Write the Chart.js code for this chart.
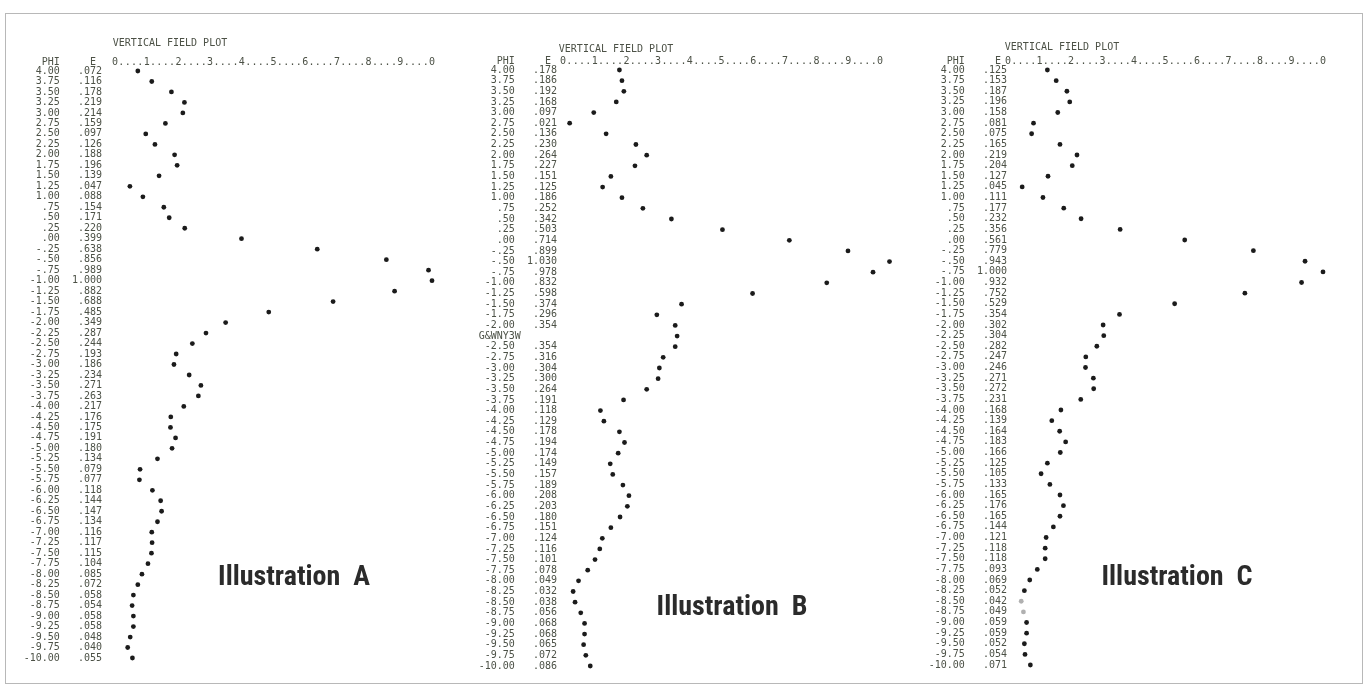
<!DOCTYPE html>
<html>
<head>
<meta charset="utf-8">
<title>Vertical field plot</title>
<script src="https://cdn.jsdelivr.net/npm/chart.js@4.4.0/dist/chart.umd.min.js"></script>
<style>
  html, body { margin: 0; padding: 0; background: #fff; }
  body { width: 1368px; height: 691px; position: relative; overflow: hidden; }
  .frame { position: absolute; left: 5px; top: 13px; width: 1356px; height: 669px; border: 1px solid #b8b8b8; }
  .panel { position: absolute; top: 0; width: 456px; height: 691px; }
</style>
</head>
<body>
<div class="frame"></div>
<div class="panel" style="left:0px"><canvas id="chart-a" width="456" height="691"></canvas></div>
<div class="panel" style="left:456px"><canvas id="chart-b" width="456" height="691"></canvas></div>
<div class="panel" style="left:912px"><canvas id="chart-c" width="456" height="691"></canvas></div>
<script>
// vertical angle PHI (degrees), one row per 0.25
const phi = [4.00, 3.75, 3.50, 3.25, 3.00, 2.75, 2.50, 2.25, 2.00, 1.75, 1.50, 1.25, 1.00, 0.75, 0.50, 0.25, 0.00,
  -0.25, -0.50, -0.75, -1.00, -1.25, -1.50, -1.75, -2.00, -2.25, -2.50, -2.75, -3.00, -3.25, -3.50, -3.75, -4.00,
  -4.25, -4.50, -4.75, -5.00, -5.25, -5.50, -5.75, -6.00, -6.25, -6.50, -6.75, -7.00, -7.25, -7.50, -7.75, -8.00,
  -8.25, -8.50, -8.75, -9.00, -9.25, -9.50, -9.75, -10.00];

// relative field E for each illustration
const fieldA = [.072, .116, .178, .219, .214, .159, .097, .126, .188, .196, .139, .047, .088, .154, .171, .220, .399,
  .638, .856, .989, 1.000, .882, .688, .485, .349, .287, .244, .193, .186, .234, .271, .263, .217,
  .176, .175, .191, .180, .134, .079, .077, .118, .144, .147, .134, .116, .117, .115, .104, .085,
  .072, .058, .054, .058, .058, .048, .040, .055];
const fieldB = [.178, .186, .192, .168, .097, .021, .136, .230, .264, .227, .151, .125, .186, .252, .342, .503, .714,
  .899, 1.030, .978, .832, .598, .374, .296, .354, .360, .354, .316, .304, .300, .264, .191, .118,
  .129, .178, .194, .174, .149, .157, .189, .208, .203, .180, .151, .124, .116, .101, .078, .049,
  .032, .038, .056, .068, .068, .065, .072, .086];
const fieldC = [.125, .153, .187, .196, .158, .081, .075, .165, .219, .204, .127, .045, .111, .177, .232, .356, .561,
  .779, .943, 1.000, .932, .752, .529, .354, .302, .304, .282, .247, .246, .271, .272, .231, .168,
  .139, .164, .183, .166, .125, .105, .133, .165, .176, .165, .144, .121, .118, .118, .093, .069,
  .052, .042, .049, .059, .059, .052, .054, .071];

// printer scale across the top
const scaleHeader = "0....1....2....3....4....5....6....7....8....9....0";
const scaleChars = scaleHeader.split("");
const scaleMax = 1.04; // room for the 1.030 reading

const textColor = "#4c5146";
const dotColor = "#1b1b1b";
const mono = { family: "'DejaVu Sans Mono', 'Liberation Mono', monospace", size: 10 };

function fmtPhi(v) {
  let s = Math.abs(v).toFixed(2);
  if (Math.abs(v) < 1) s = s.slice(1);
  return (v < 0 ? "-" : "") + s;
}

function fmtE(v) {
  const s = v.toFixed(3);
  return v < 1 ? s.slice(1) : s;
}

const panelText = {
  id: "panelText",
  afterDraw(chart, args, opts) {
    const ctx = chart.ctx;
    const yScale = chart.scales.y;
    ctx.save();
    ctx.fillStyle = textColor;
    ctx.font = "10px " + mono.family;
    ctx.textBaseline = "middle";
    ctx.textAlign = "center";
    ctx.fillText("VERTICAL FIELD PLOT", opts.titleX, opts.titleY);
    ctx.textAlign = "right";
    ctx.fillText("   PHI     E ", yScale.right - opts.labelPad, opts.headerY);
    ctx.fillStyle = "#2b2b2b";
    ctx.font = "bold 28px 'Liberation Sans Narrow', 'Roboto Condensed', 'Liberation Sans', sans-serif";
    ctx.textAlign = "center";
    ctx.fillText(opts.illus, opts.illusX, opts.illusY);
    ctx.restore();
  }
};

const panels = [
  { id: "chart-a", left: 0, values: fieldA, x0: 115, x1: 432, top: 71, bottom: 658, labelPad: 13,
    titleX: 170, titleY: 43, headerY: 62, illus: "Illustration  A", illusX: 294, illusY: 578, overrides: {}, faint: [] },
  { id: "chart-b", left: 456, values: fieldB, x0: 563, x1: 880, top: 70, bottom: 666, labelPad: 6,
    titleX: 616, titleY: 49, headerY: 61, illus: "Illustration  B", illusX: 732, illusY: 608, overrides: { 25: "G&WNY3W" }, faint: [] },
  { id: "chart-c", left: 912, values: fieldC, x0: 1008, x1: 1323, top: 70, bottom: 665, labelPad: 1,
    titleX: 1062, titleY: 47, headerY: 61, illus: "Illustration  C", illusX: 1177, illusY: 578, overrides: {}, faint: [50, 51] }
];

panels.forEach(p => {
  const W = 456, H = 691;
  const right = p.x0 + (p.x1 - p.x0) * scaleMax;
  const labels = phi.map((v, i) => p.overrides[i]
    ? p.overrides[i].padEnd(13)
    : fmtPhi(v).padStart(6) + "  " + fmtE(p.values[i]).padStart(5));

  new Chart(document.getElementById(p.id), {
    type: "scatter",
    data: {
      datasets: [{
        data: phi.map((v, i) => ({ x: p.values[i], y: v })),
        pointRadius: 2.4,
        pointBorderWidth: 0,
        pointBackgroundColor: c => p.faint.includes(c.dataIndex) ? "#b0b0b0" : dotColor,
        clip: false
      }]
    },
    options: {
      responsive: false,
      animation: false,
      layout: { padding: { left: 0, top: 0, right: W - (right - p.left), bottom: H - p.bottom } },
      plugins: {
        legend: { display: false },
        tooltip: { enabled: false },
        panelText: {
          titleX: p.titleX - p.left, titleY: p.titleY, headerY: p.headerY, labelPad: p.labelPad,
          illus: p.illus, illusX: p.illusX - p.left, illusY: p.illusY
        }
      },
      scales: {
        x: {
          type: "linear", position: "top", min: 0, max: scaleMax,
          grid: { display: false, drawTicks: false }, border: { display: false },
          afterBuildTicks: s => { s.ticks = scaleChars.map((c, i) => ({ value: i / 50 })); },
          afterFit: s => { s.height = p.top; },
          ticks: { autoSkip: false, maxRotation: 0, padding: 3, font: mono, color: textColor,
            callback: (v, i) => scaleChars[i] }
        },
        y: {
          type: "linear", min: -10, max: 4,
          grid: { display: false, drawTicks: false }, border: { display: false },
          afterBuildTicks: s => { s.ticks = phi.map(v => ({ value: v })); },
          afterFit: s => { s.width = p.x0 - p.left; },
          ticks: { autoSkip: false, padding: p.labelPad, font: mono, color: textColor,
            callback: (v, i) => labels[i] }
        }
      }
    },
    plugins: [panelText]
  });
});
</script>
</body>
</html>
